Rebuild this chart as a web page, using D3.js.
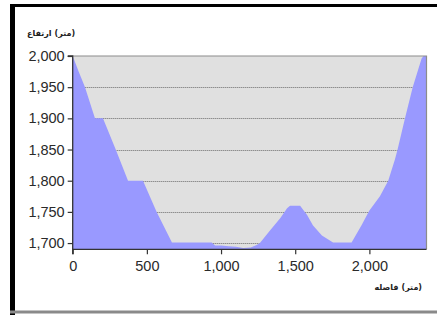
<!DOCTYPE html>
<html><head><meta charset="utf-8">
<script src="https://cdn.jsdelivr.net/npm/d3@7"></script>
<style>
html,body{margin:0;padding:0;background:#fff;}
svg{display:block;}
</style></head>
<body>
<svg id="c" width="437" height="315"></svg>
<script>
// Distance along profile (m)
const distance = [0, 40, 83, 150, 204, 290, 373, 474, 566, 669, 937, 960, 1000, 1050, 1100, 1150, 1200, 1240, 1262, 1330, 1400, 1445, 1465, 1533, 1580, 1620, 1680, 1755, 1880, 1948, 1999, 2071, 2127, 2172, 2190, 2240, 2292, 2352, 2365, 2385];
// Elevation (m)
const elevation = [2000, 1975, 1950, 1900, 1900, 1850, 1800, 1800, 1750, 1701, 1701, 1696, 1696, 1695, 1694, 1692, 1693, 1697, 1700, 1720, 1740, 1756, 1760, 1760, 1745, 1728, 1712, 1701, 1701, 1729, 1752, 1775, 1800, 1834, 1850, 1900, 1950, 1996, 2000, 2000];
const yTicks = [1700, 1750, 1800, 1850, 1900, 1950, 2000];
const xTicks = [0, 500, 1000, 1500, 2000];
const yTitleWords = ["ارتفاع", "(متر)"];
const xTitleWords = ["فاصله", "(متر)"];

const data = distance.map((d, i) => ({d, e: elevation[i]}));
const svg = d3.select("#c");
const L = 72.7, R = 426.5, T = 56, B = 249.3;
const x = d3.scaleLinear().domain([0, 2385]).range([L, R]);
const y = d3.scaleLinear().domain([1690, 2000]).range([B, T]);
const fmt = d3.format(",");

// frame
svg.append("rect").attr("x", 10).attr("y", 4).attr("width", 437).attr("height", 3).attr("fill", "#000");
svg.append("rect").attr("x", 10).attr("y", 4).attr("width", 5).attr("height", 311).attr("fill", "#000");
svg.append("rect").attr("x", 10).attr("y", 310.5).attr("width", 437).attr("height", 3).attr("fill", "#8a8a8a");

// plot background
svg.append("rect").attr("x", L).attr("y", T).attr("width", R - L).attr("height", B - T).attr("fill", "#e0e0e0");

// gridlines
svg.append("g").selectAll("line").data(yTicks.filter(t => t < 2000)).join("line")
  .attr("x1", L).attr("x2", R).attr("y1", d => Math.round(y(d)) + 0.5).attr("y2", d => Math.round(y(d)) + 0.5)
  .attr("stroke", "#6b6b6b").attr("stroke-width", 1).attr("stroke-dasharray", "1,1");

// area
const area = d3.area().x(p => x(p.d)).y0(B).y1(p => y(p.e));
svg.append("path").datum(data).attr("d", area).attr("fill", "#9999ff");

// plot border top/right
svg.append("path").attr("d", `M${L},${T}H${R}V${B}`).attr("fill", "none").attr("stroke", "#8c8c8c").attr("stroke-width", 1.2);

// axes
const yAxis = svg.append("g").attr("transform", `translate(${L},0)`)
  .call(d3.axisLeft(y).tickValues(yTicks).tickFormat(fmt).tickSize(5).tickPadding(3));
const xAxis = svg.append("g").attr("transform", `translate(0,${B})`)
  .call(d3.axisBottom(x).tickValues(xTicks).tickFormat(fmt).tickSize(5).tickPadding(6));
[yAxis, xAxis].forEach(g => {
  g.select(".domain").attr("stroke", "#333").attr("stroke-width", 1.3);
  g.selectAll(".tick line").attr("stroke", "#333").attr("stroke-width", 1.2);
  g.selectAll(".tick text").attr("fill", "#2a2a2a").style("font-family", "Liberation Sans, Arial, sans-serif").style("font-size", "14.5px");
});
yAxis.select(".domain").attr("d", `M-5,${T}H0V${B}`);
xAxis.select(".domain").attr("d", `M${L},5V0H${R}`);

// titles: word on the left, unit on the right (as in the reference)
function title(words, x0, yb, anchorEnd) {
  const g = svg.append("g");
  const t = words.map(w => g.append("text").attr("y", yb).text(w)
    .style("font-family", "DejaVu Sans, sans-serif").style("font-size", "8px").style("font-weight", "bold").attr("fill", "#222"));
  const w0 = t[0].node().getComputedTextLength();
  const w1 = t[1].node().getComputedTextLength();
  const gap = 3;
  const start = anchorEnd ? x0 - (w0 + gap + w1) : x0;
  t[0].attr("x", start);
  t[1].attr("x", start + w0 + gap);
}
title(yTitleWords, 27, 36, false);
title(xTitleWords, 422, 290, true);
</script>
</body></html>
